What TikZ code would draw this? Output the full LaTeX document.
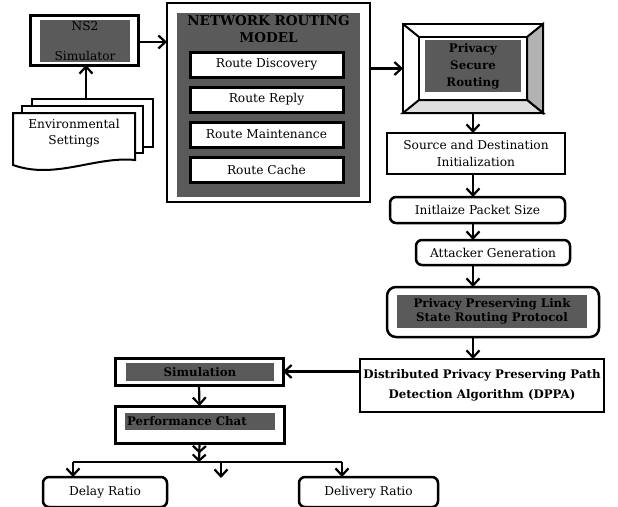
\documentclass[tikz,border=0pt]{standalone}
\usepackage{fontspec}
\setmainfont{DejaVu Serif}
\usetikzlibrary{
    arrows.meta,
    calc,
    positioning
}
\definecolor{darkfill}{HTML}{5A5A5A}

\begin{document}
\begin{tikzpicture}[x=1pt,y=-1pt,
        font=\fontsize{12.2}{14}\selectfont,
        box/.style={draw,line width=2.5pt,fill=white,outer sep=0pt,inner sep=0pt,align=center},
        rbox/.style={box,rounded corners=6pt},
        panel/.style={fill=darkfill,inner sep=0pt,outer sep=0pt,align=center},
        bold/.style={font=\fontsize{11.8}{14}\selectfont\bfseries},
        sheet/.style={draw,fill=white,line width=2pt},
        flow/.style={line width=2.2pt,-{Straight Barb[length=7pt,width=13pt]}}]
    \useasboundingbox (0,0) rectangle (618,506);

    % simulator and settings
    \node[box,line width=3pt,minimum width=108pt,minimum height=50pt] (ns2) at (84,40) {};
    \node[panel,minimum width=90pt,minimum height=42pt] (ns2in) at (85,41) {NS2\\[16pt]Simulator};
    \filldraw[sheet] (32,99) rectangle (153,147);
    \filldraw[sheet] (22,106) rectangle (143,153);
    \filldraw[sheet] (13,113) -- (135,113) -- (135,160) .. controls (95,156) and (55,180) .. (13,165) -- cycle;
    \node[align=center] (env) at (74,133) {Environmental\\[2pt]Settings};
    \coordinate (envtop) at (86,99);

    % routing model
    \node[box,minimum width=203pt,minimum height=199pt] (nrm) at (268.5,102.5) {};
    \node[panel,minimum width=183pt,minimum height=184pt] (nrmin) at (268.5,105) {};
    \node[bold,font=\fontsize{13.5}{17}\selectfont\bfseries,align=center] (nrmtitle) at (268.5,29) {NETWORK ROUTING\\MODEL};
    \node[box,line width=3pt,minimum width=153pt,minimum height=25pt] (disc) at (266.5,64.5) {Route Discovery};
    \node[box,line width=3pt,minimum width=153pt,minimum height=25pt] (reply) at (266.5,99.5) {Route Reply};
    \node[box,line width=3pt,minimum width=153pt,minimum height=25pt] (maint) at (266.5,134.5) {Route Maintenance};
    \node[box,line width=3pt,minimum width=153pt,minimum height=25pt] (cache) at (266.5,170) {Route Cache};

    % privacy secure routing frame
    \node[box,minimum width=140pt,minimum height=89pt] (psr) at (473,68.5) {};
    \node[box,line width=2pt,minimum width=108pt,minimum height=63pt] (psrin) at (473,68.5) {};
    \filldraw[fill=gray!60,line width=2pt] (psr.north east) -- (psr.south east) -- (psrin.south east) -- (psrin.north east) -- cycle;
    \filldraw[fill=gray!25,line width=2pt] (psr.south west) -- (psr.south east) -- (psrin.south east) -- (psrin.south west) -- cycle;
    \draw[line width=2pt] (psr.north west) -- (psrin.north west);
    \draw[line width=2.5pt] (psr.north west) rectangle (psr.south east);
    \node[panel,bold,minimum width=96pt,minimum height=52pt] (psrtxt) at (473,66) {Privacy\\[3pt]Secure\\[3pt]Routing};

    % right column
    \node[box,minimum width=178pt,minimum height=41pt] (src) at (476,153.5) {Source and Destination\\[3pt]Initialization};
    \node[rbox,minimum width=175pt,minimum height=26pt] (pkt) at (477.5,210) {Initlaize Packet Size};
    \node[rbox,minimum width=154pt,minimum height=25pt] (atk) at (493,252.5) {Attacker Generation};
    \node[rbox,rounded corners=9pt,minimum width=212pt,minimum height=50pt] (pplsrp) at (493,312) {};
    \node[panel,bold,minimum width=190pt,minimum height=33pt] (pplsrpin) at (492,311.5) {Privacy Preserving Link\\State Routing Protocol};
    \node[box,bold,minimum width=244pt,minimum height=53pt] (dppa) at (482,385.5) {Distributed Privacy Preserving Path\\[6pt]Detection Algorithm (DPPA)};

    % left bottom
    \node[box,line width=3pt,minimum width=168pt,minimum height=27pt] (sim) at (199,371.5) {};
    \node[panel,bold,minimum width=148pt,minimum height=18pt] (simin) at (200,372) {Simulation};
    \node[box,line width=3pt,minimum width=169pt,minimum height=37pt] (pc) at (199.5,424.5) {};
    \node[panel,bold,minimum width=150pt,minimum height=17pt,text width=146pt,align=left] (pcin) at (200,421.5) {Performance Chat};
    \node[rbox,minimum width=124pt,minimum height=30pt] (delay) at (105,492) {Delay Ratio};
    \node[rbox,minimum width=139pt,minimum height=30pt] (deliv) at (368.5,492) {Delivery Ratio};
    \coordinate (jl) at (73,462);
    \coordinate (jm) at (199,462);
    \coordinate (jr) at (342,462);
    \coordinate (stub) at (221,462);

    \draw[flow] (envtop) -- (envtop |- ns2.south);
    \draw[flow] (ns2.east |- 0,42) -- (nrm.west |- 0,42);
    \draw[flow] (nrm.east |- psr.west) -- (psr.west);
    \draw[flow] (psr.south) -- (psr.south |- src.north);
    \draw[flow] (psr.south |- src.south) -- (psr.south |- pkt.north);
    \draw[flow] (psr.south |- pkt.south) -- (psr.south |- atk.north);
    \draw[flow] (psr.south |- atk.south) -- (psr.south |- pplsrp.north);
    \draw[flow] (psr.south |- pplsrp.south) -- (psr.south |- dppa.north);
    \draw[flow] (dppa.west |- sim.east) -- (sim.east);
    \draw[flow] (sim.south) -- (pc.north);
    \draw[line width=2.2pt,-{Straight Barb[length=6pt,width=13pt]Straight Barb[length=6pt,width=13pt]}] (pc.south) -- (jm);
    \draw[line width=2.2pt] (jl) -- (jr);
    \draw[flow] (jl) -- (jl |- delay.north);
    \draw[flow] (jr) -- (jr |- deliv.north);
    \draw[flow] (stub) -- ++(0,16);
\end{tikzpicture}
\end{document}
